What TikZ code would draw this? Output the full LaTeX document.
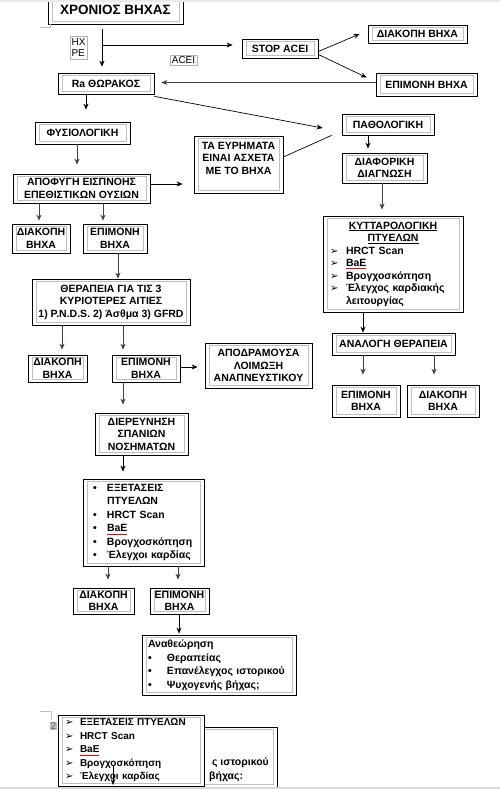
\documentclass[tikz,border=0pt]{standalone}
\usepackage{fontspec}
\setmainfont{Liberation Sans}
\newfontfamily\dingfont{DejaVu Sans}
\usetikzlibrary{arrows.meta, positioning, calc}

\newsavebox\spellbox
\newcommand{\spellred}[1]{\sbox\spellbox{#1}\rlap{\color{red}\rule[-2.5pt]{\wd\spellbox}{0.7pt}}\usebox\spellbox}
\newcommand{\arrbul}[1]{\makebox[#1][l]{{\dingfont\fontsize{10}{10}\selectfont ➢}}}
\newcommand{\dotbul}[1]{\makebox[#1][l]{•}}

\begin{document}
\begin{tikzpicture}[
  x=1pt, y=-1pt,
  >={Stealth[length=6pt, width=5pt]},
  fbox/.style={draw, line width=0.7pt, fill=white, inner sep=0pt, align=center,
    font=\fontsize{10.5}{12.5}\selectfont\bfseries,
    path picture={\draw[black!25, line width=0.6pt]
      ([shift={(4pt,-2.5pt)}]path picture bounding box.north west) rectangle
      ([shift={(-4pt,2.5pt)}]path picture bounding box.south east);}},
  tag/.style={draw=black!30, line width=0.5pt, inner sep=1pt, font=\fontsize{10}{11}\selectfont},
  link/.style={->, line width=0.7pt},
  glink/.style={->, line width=1pt, draw=black!75},
]
\fill[white] (0,0) rectangle (500,789);
\useasboundingbox (0,0) rectangle (500,789);

% --- top: chronic cough and the ACEI branch ---
\node[fbox, minimum width=135pt, minimum height=29pt, font=\fontsize{13.5}{15}\selectfont\bfseries]
  (chronic) at (115.5,9.5) {ΧΡΟΝΙΟΣ ΒΗΧΑΣ};
\node[tag, align=left, minimum width=17pt, minimum height=23pt] (hxpe) at (78.5,47.5) {ΗΧ\\ΡΕ};
\node[tag, minimum width=27pt, minimum height=10pt] (acei) at (183.5,60) {ACEI};
\node[fbox, minimum width=76pt, minimum height=19pt] (stopacei) at (280,48.5) {STOP ACEI};
\node[fbox, minimum width=99pt, minimum height=18pt] (stopA) at (417.5,34) {ΔΙΑΚΟΠΗ ΒΗΧΑ};
\node[fbox, minimum width=101pt, minimum height=23pt] (stopB) at (426.5,84.5) {ΕΠΙΜΟΝΗ ΒΗΧΑ};
\node[fbox, minimum width=96pt, minimum height=21pt] (xray) at (106,83.5) {Ra ΘΩΡΑΚΟΣ};

% --- left column ---
\node[fbox, minimum width=95pt, minimum height=22pt] (normal) at (82.5,133) {ΦΥΣΙΟΛΟΓΙΚΗ};
\node[fbox, minimum width=137pt, minimum height=29pt] (avoid) at (81.5,188.5)
  {ΑΠΟΦΥΓΗ ΕΙΣΠΝΟΗΣ\\ΕΠΕΘΙΣΤΙΚΩΝ ΟΥΣΙΩΝ};
\node[fbox, minimum width=89pt, minimum height=57pt] (unrelated) at (238.5,164.5)
  {ΤΑ ΕΥΡΗΜΑΤΑ\\ΕΙΝΑΙ ΑΣΧΕΤΑ\\ΜΕ ΤΟ ΒΗΧΑ\\~};
\node[fbox, minimum width=58pt, minimum height=29pt] (stop1) at (41,238.5) {ΔΙΑΚΟΠΗ\\ΒΗΧΑ};
\node[fbox, minimum width=64pt, minimum height=29pt] (persist1) at (115,238.5) {ΕΠΙΜΟΝΗ\\ΒΗΧΑ};
\node[fbox, minimum width=158pt, minimum height=46pt] (therapy) at (111,302)
  {ΘΕΡΑΠΕΙΑ ΓΙΑ ΤΙΣ 3\\ΚΥΡΙΟΤΕΡΕΣ ΑΙΤΙΕΣ\\1) P.N.D.S. 2) Άσθμα 3) GFRD};
\node[fbox, minimum width=59pt, minimum height=27pt] (stop2) at (57.5,368.5) {ΔΙΑΚΟΠΗ\\ΒΗΧΑ};
\node[fbox, minimum width=68pt, minimum height=27pt] (persist2) at (146,368.5) {ΕΠΙΜΟΝΗ\\ΒΗΧΑ};
\node[fbox, minimum width=107pt, minimum height=45pt] (infection) at (258.5,365.5)
  {ΑΠΟΔΡΑΜΟΥΣΑ\\ΛΟΙΜΩΞΗ\\ΑΝΑΠΝΕΥΣΤΙΚΟΥ};
\node[fbox, minimum width=93pt, minimum height=42pt] (rare) at (141.5,434)
  {ΔΙΕΡΕΥΝΗΣΗ\\ΣΠΑΝΙΩΝ\\ΝΟΣΗΜΑΤΩΝ};
\node[fbox, minimum width=121pt, minimum height=87pt, text width=101pt, align=left,
  font=\fontsize{10.5}{13.5}\selectfont\bfseries] (exams) at (143.5,522.5)
  {\dotbul{14pt}ΕΞΕΤΑΣΕΙΣ\\\hspace*{14pt}ΠΤΥΕΛΩΝ\\\dotbul{14pt}HRCT Scan\\
   \dotbul{14pt}\spellred{BaE}\\\dotbul{14pt}Βρογχοσκόπηση\\\dotbul{14pt}Έλεγχοι καρδίας};
\node[fbox, minimum width=61pt, minimum height=26pt] (stop4) at (103.5,601) {ΔΙΑΚΟΠΗ\\ΒΗΧΑ};
\node[fbox, minimum width=59pt, minimum height=26pt] (persist4) at (179.5,601) {ΕΠΙΜΟΝΗ\\ΒΗΧΑ};
\node[fbox, minimum width=154pt, minimum height=60pt, text width=142pt, align=left,
  font=\fontsize{10.5}{13.5}\selectfont\bfseries] (review) at (219,665)
  {Αναθεώρηση\\\dotbul{19pt}Θεραπείας\\\dotbul{19pt}Επανέλεγχος ιστορικού\\
   \dotbul{19pt}Ψυχογενής βήχας;};

% --- right column ---
\node[fbox, minimum width=92pt, minimum height=21pt] (abnormal) at (388,124.5) {ΠΑΘΟΛΟΓΙΚΗ};
\node[fbox, minimum width=85pt, minimum height=30pt] (diffdx) at (384.5,168) {ΔΙΑΦΟΡΙΚΗ\\ΔΙΑΓΝΩΣΗ};
\node[fbox, minimum width=140pt, minimum height=96pt, text width=126pt, align=left] (cytology) at (393,264)
  {\makebox[126pt][c]{\underline{ΚΥΤΤΑΡΟΛΟΓΙΚΗ}}\\
   \makebox[126pt][c]{\underline{ΠΤΥΕΛΩΝ}}\\
   \arrbul{16pt}HRCT Scan\\\arrbul{16pt}\spellred{BaE}\\\arrbul{16pt}Βρογχοσκόπηση\\
   \arrbul{16pt}Έλεγχος καρδιακής\\\hspace*{16pt}λειτουργίας};
\node[fbox, minimum width=123pt, minimum height=22pt] (analog) at (393.5,344) {ΑΝΑΛΟΓΗ ΘΕΡΑΠΕΙΑ};
\node[fbox, minimum width=68pt, minimum height=32pt] (persist3) at (366,401) {ΕΠΙΜΟΝΗ\\ΒΗΧΑ};
\node[fbox, minimum width=72pt, minimum height=32pt] (stop3) at (443,401) {ΔΙΑΚΟΠΗ\\ΒΗΧΑ};

% column guides for the vertical connectors
\coordinate (split) at (102,45);
\coordinate (colA) at (102,0);
\coordinate (colB) at (86,0);
\coordinate (colC) at (77,0);
\coordinate (colD) at (39,0);
\coordinate (colE) at (103,0);
\coordinate (colF) at (118,0);
\coordinate (colG) at (62,0);
\coordinate (colH) at (123,0);
\coordinate (colI) at (108,0);
\coordinate (colJ) at (178,0);
\coordinate (colK) at (179,0);
\coordinate (colL) at (368,0);
\coordinate (colM) at (382,0);
\coordinate (colN) at (363,0);
\coordinate (colO) at (434,0);

% --- connectors ---
\draw[link, shorten <=5pt, shorten >=6pt] (chronic.south -| colA) -- (xray.north -| colA);
\draw[link, shorten >=9pt] (split) -- (split -| stopacei.west);
\draw[link] ([yshift=-3pt]stopacei.east) -- ([xshift=-8pt]stopA.west);
\draw[link] ([yshift=-6pt]stopacei.east) -- ([xshift=-9pt, yshift=7pt]stopB.west);
\draw[glink, shorten >=7pt] ([yshift=2pt]stopB.west) -- ([yshift=2pt]stopB.west -| xray.east);
\draw[link] ([yshift=-2pt]xray.south east) -- ([xshift=-19pt, yshift=-3.5pt]abnormal.west);
\draw[line width=0.7pt] ([yshift=7.5pt]unrelated.east) -- ([xshift=-10pt]abnormal.south west);

\draw[link, shorten >=12pt] (xray.south -| colB) -- (normal.north -| colB);
\draw[glink, shorten >=9pt] (normal.south -| colC) -- (avoid.north -| colC);
\draw[link, shorten >=11pt] ([yshift=4.5pt]avoid.east) -- ([yshift=4.5pt]avoid.east -| unrelated.west);
\draw[glink, shorten >=3pt] (avoid.south -| colD) -- (stop1.north -| colD);
\draw[glink, shorten >=3pt] (avoid.south -| colE) -- (persist1.north -| colE);
\draw[glink] (persist1.south -| colF) -- (therapy.north -| colF);
\draw[glink, shorten >=5pt] (therapy.south -| colG) -- (stop2.north -| colG);
\draw[glink, shorten >=5pt] (therapy.south -| colH) -- (persist2.north -| colH);
\draw[link, shorten >=7pt] ([yshift=1.5pt]persist2.east) -- ([yshift=1.5pt]persist2.east -| infection.west);
\draw[glink, shorten >=8pt] (persist2.south -| colH) -- (rare.north -| colH);
\draw[link, shorten >=7pt] (rare.south -| colH) -- (exams.north -| colH);
\draw[glink, shorten >=8pt] (exams.south -| colI) -- (stop4.north -| colI);
\draw[glink, shorten >=8pt] (exams.south -| colJ) -- (persist4.north -| colJ);
\draw[link, shorten >=1pt] (persist4.south -| colK) -- (review.north -| colK);

\draw[link, shorten >=4pt] (abnormal.south -| colL) -- (diffdx.north -| colL);
\draw[glink, shorten >=6pt] (diffdx.south -| colM) -- (cytology.north -| colM);
\draw[link] (cytology.south -| colN) -- (analog.north -| colN);
\draw[glink, shorten >=10pt] (analog.south -| colN) -- (persist3.north -| colN);
\draw[glink, shorten >=10pt] (analog.south -| colO) -- (stop3.north -| colO);

% --- stray boxes at the page foot ---
\draw[line width=0.7pt] (150,754) -- (208,754) -- (208,789);
\node[fbox, minimum width=147pt, minimum height=60pt] (ghost) at (203.5,757) {};
\node[anchor=east, inner sep=0pt, font=\fontsize{10.5}{12.5}\selectfont\bfseries] (ghosta) at (269,763) {ς ιστορικού};
\node[anchor=west, inner sep=0pt, font=\fontsize{10.5}{12.5}\selectfont\bfseries] (ghostb) at (209,777) {βήχας:};
\node[fbox, minimum width=146pt, minimum height=71pt, text width=132pt, align=left,
  font=\fontsize{10}{13.5}\selectfont\bfseries] (overlay) at (131,750.5)
  {\arrbul{15pt}ΕΞΕΤΑΣΕΙΣ ΠΤΥΕΛΩΝ\\\arrbul{15pt}HRCT Scan\\\arrbul{15pt}\spellred{BaE}\\
   \arrbul{15pt}Βρογχοσκόπηση\\\arrbul{15pt}Έλεγχοι καρδίας};
\coordinate (dropa) at (113,766);
\coordinate (dropb) at (113,785);
\draw[link] (dropa) -- (dropb);
\node[fill=black!25, text=black!60, inner sep=0.5pt, font=\fontsize{10}{10}\selectfont] (pagenum) at (53.5,725.5) {2};
\draw[black!25, line width=0.6pt] (40,711) -- (51,711) -- (51,720);
\draw[black!25, line width=0.6pt] (40,27) -- (50,27) -- (50,24);

% page edges
\fill[black!8] (0,0) rectangle (500,2.5);
\fill[black!15] (0,786.5) rectangle (500,789);
\end{tikzpicture}
\end{document}
